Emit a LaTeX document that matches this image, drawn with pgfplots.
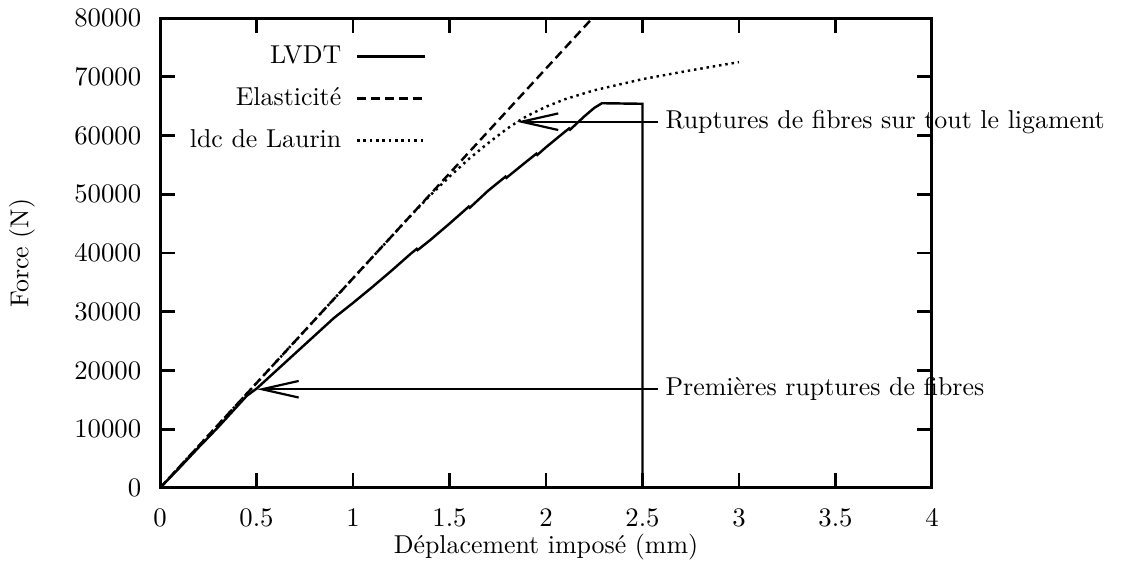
\documentclass[border=0pt]{standalone}
\usepackage{pgfplots}
\pgfplotsset{compat=1.18}
\usetikzlibrary{arrows.meta}
\begin{document}
\begin{tikzpicture}[font=\fontsize{10.6}{12.7}\selectfont]
\begin{axis}[
 name=ax,
 scale only axis,
 width=316.4pt, height=192.6pt,
 xmin=0, xmax=4, ymin=0, ymax=80000,
 xtick={0,0.5,1,1.5,2,2.5,3,3.5,4},
 ytick={0,10000,20000,30000,40000,50000,60000,70000,80000},
 scaled ticks=false,
 /pgf/number format/1000 sep={},
 tick align=inside,
 major tick length=6pt,
 axis line style={line width=1.2pt},
 tick style={line width=1.2pt, black},
 ticklabel style={font=\fontsize{10.6}{12.7}\selectfont},
 label style={font=\fontsize{10.6}{12.7}\selectfont},
 xticklabel style={yshift=-5.4pt},
 yticklabel style={xshift=-4.2pt},
 xlabel={Déplacement imposé (mm)},
 ylabel={Force (N)},
 xlabel style={at={(axis description cs:0.5,-0.1255)}, anchor=center},
 ylabel style={at={(axis description cs:-0.179,0.5)}, anchor=center},
 clip mode=individual,
 legend plot pos=right,
 legend cell align=right,
 legend style={draw=none, fill=none, at={(0.346,0.952)}, anchor=north east, row sep=4.3pt, column sep=4pt, inner sep=0pt, font=\fontsize{10.6}{12.7}\selectfont},
 legend image code/.code={\draw[#1] (0pt,0pt) -- (28pt,0pt);},
]
\addplot[black, line width=1pt] coordinates {
(0,0) (0.1,3400) (0.2,6900) (0.3,10300) (0.4,13900) (0.45,15700) (0.5,16900)
(0.6,19900) (0.7,22900) (0.8,25900) (0.9,28900) (1.0,31500) (1.1,34200)
(1.2,37000) (1.3,39900) (1.33,40700) (1.335,40500) (1.4,42200) (1.5,45000)
(1.6,47900) (1.605,47700) (1.7,50600) (1.79,53000) (1.795,52800) (1.9,55600)
(1.95,56900) (1.955,56700) (2.0,58000) (2.1,60700) (2.12,61200) (2.125,61000)
(2.2,63300) (2.25,64700) (2.29,65500) (2.5,65400) (2.5,0)
};
\addlegendentry{LVDT}
\addplot[black, line width=1pt, dash pattern=on 3.7pt off 2pt] coordinates {
(0,0) (2.5,89250)
};
\addlegendentry{Elasticité}
\addplot[black, line width=1pt, dash pattern=on 1pt off 1.6pt] coordinates {
(0,0) (1.3,46400) (1.4,49800) (1.5,53000) (1.6,56000) (1.7,58700) (1.8,61200)
(1.85,62300) (1.9,63300) (2.0,64900) (2.1,66200) (2.25,67700) (2.5,69600)
(2.75,71100) (3.0,72500)
};
\addlegendentry{ldc de Laurin}
\draw[line width=0.9pt, -{Straight Barb[length=15pt,width=6.8pt]}] (axis cs:2.58,62350) -- (axis cs:1.848,62350);
\node[anchor=west, inner sep=0pt] at (axis cs:2.617,62350) {Ruptures de fibres sur tout le ligament};
\draw[line width=0.9pt, -{Straight Barb[length=15pt,width=6.8pt]}] (axis cs:2.58,16800) -- (axis cs:0.503,16800);
\node[anchor=west, inner sep=0pt] at (axis cs:2.617,16800) {Premières ruptures de fibres};
\end{axis}
\pgfresetboundingbox
\path[use as bounding box] ([shift={(-65.6pt,-33.2pt)}]ax.south west) rectangle ([shift={(82pt,7.4pt)}]ax.north east);
\end{tikzpicture}
\end{document}
